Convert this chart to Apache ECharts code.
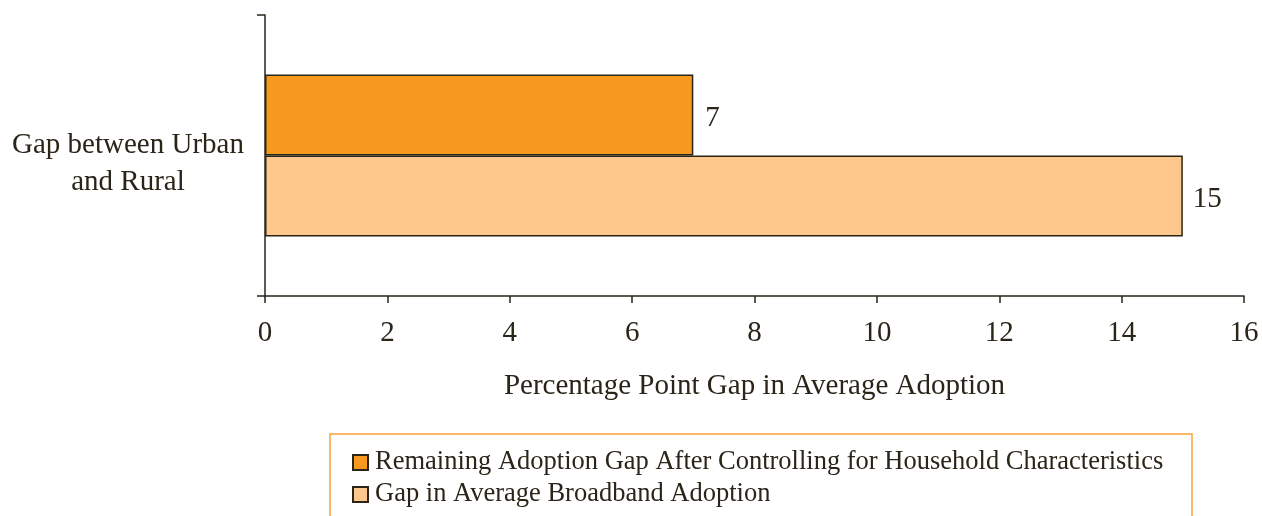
<!DOCTYPE html>
<html>
<head>
<meta charset="utf-8">
<script src="https://cdn.jsdelivr.net/npm/echarts@6/dist/echarts.min.js"></script>
<style>
  html, body { margin: 0; padding: 0; background: #fff; }
  #chart { width: 1262px; height: 516px; }
</style>
</head>
<body>
<div id="chart"></div>
<script>
const categories = ["Gap between Urban\nand Rural"];
const remainingGap = [7];
const averageGap = [15];
const seriesNames = [
  "Remaining Adoption Gap After Controlling for Household Characteristics",
  "Gap in Average Broadband Adoption"
];

const textColor = "#2b2519";
const font = "Liberation Serif";

function legendAt(name, top) {
  return {
    left: 352,
    top: top,
    padding: 0,
    itemWidth: 15,
    itemHeight: 15,
    icon: "rect",
    data: [name],
    textStyle: { fontFamily: font, fontSize: 26.5, color: textColor, padding: [0, 0, 0, 2] }
  };
}

const chart = echarts.init(document.getElementById("chart"));
const option = {
  animation: false,
  textStyle: { fontFamily: font, color: textColor },
  grid: { left: 265, right: 18, top: 15, bottom: 220 },
  graphic: [{
    type: "rect",
    shape: { x: 330, y: 434, width: 862, height: 120 },
    style: { fill: "none", stroke: "#f7a13a", lineWidth: 1.5 }
  }],
  legend: [legendAt(seriesNames[0], 449), legendAt(seriesNames[1], 481)],
  xAxis: {
    type: "value",
    min: 0,
    max: 16,
    interval: 2,
    name: "Percentage Point Gap in Average Adoption",
    nameLocation: "middle",
    nameGap: 76,
    nameTextStyle: { fontFamily: font, fontSize: 29, color: textColor },
    axisLine: { show: true, lineStyle: { color: textColor, width: 1.5 } },
    axisTick: { show: true, length: 7, lineStyle: { color: textColor, width: 1.5 } },
    axisLabel: { fontFamily: font, fontSize: 29, color: textColor, margin: 23 },
    splitLine: { show: false }
  },
  yAxis: {
    type: "category",
    data: categories,
    axisLine: { show: true, lineStyle: { color: textColor, width: 1.5 } },
    axisTick: { show: true, length: 8, lineStyle: { color: textColor, width: 1.5 } },
    axisLabel: {
      align: "center",
      margin: 137,
      formatter: (v) => "{s| }\n" + v.split("\n").map((l) => "{t|" + l + "}").join("\n"),
      rich: {
        s: { fontSize: 4, lineHeight: 16 },
        t: { fontFamily: font, fontSize: 29, color: textColor, lineHeight: 37, align: "center" }
      }
    }
  },
  series: [
    {
      name: seriesNames[0],
      type: "bar",
      data: remainingGap,
      barWidth: 81,
      barGap: "0%",
      itemStyle: { color: "#f8991f", borderColor: textColor, borderWidth: 1.5 },
      label: { show: true, position: "right", distance: 12, offset: [0, 3], fontFamily: font, fontSize: 29, color: textColor }
    },
    {
      name: seriesNames[1],
      type: "bar",
      data: averageGap,
      barWidth: 81,
      barGap: "0%",
      itemStyle: { color: "#fec78b", borderColor: textColor, borderWidth: 1.5 },
      label: { show: true, position: "right", distance: 10, offset: [0, 3], fontFamily: font, fontSize: 29, color: textColor }
    }
  ]
};
chart.setOption(option);
</script>
</body>
</html>
